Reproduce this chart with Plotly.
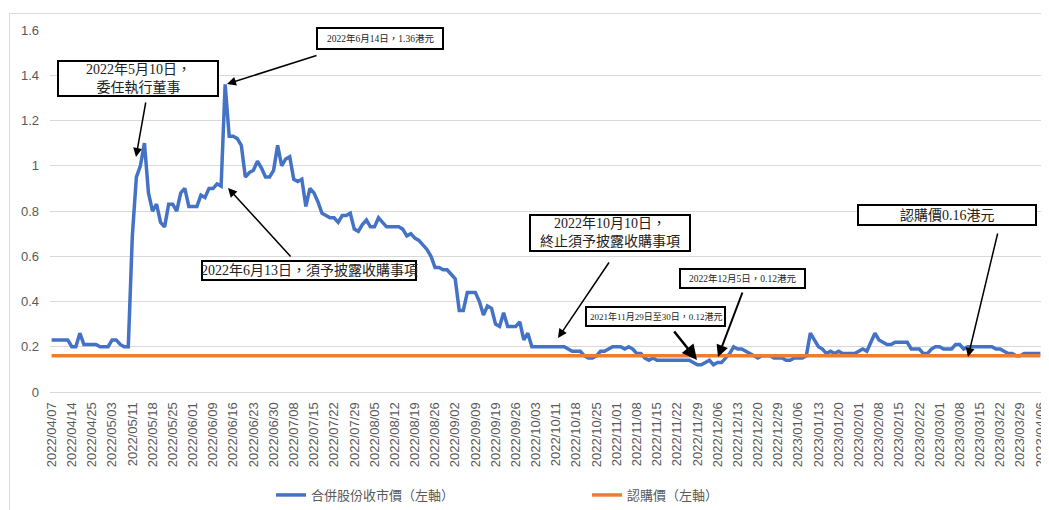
import plotly.graph_objects as go

# ---------------- data ----------------
tick_labels = [
    "2022/04/07", "2022/04/14", "2022/04/25", "2022/05/03", "2022/05/11",
    "2022/05/18", "2022/05/25", "2022/06/01", "2022/06/09", "2022/06/16",
    "2022/06/23", "2022/06/30", "2022/07/08", "2022/07/15", "2022/07/22",
    "2022/07/29", "2022/08/05", "2022/08/12", "2022/08/19", "2022/08/26",
    "2022/09/02", "2022/09/09", "2022/09/19", "2022/09/26", "2022/10/03",
    "2022/10/11", "2022/10/18", "2022/10/25", "2022/11/01", "2022/11/08",
    "2022/11/15", "2022/11/22", "2022/11/29", "2022/12/06", "2022/12/13",
    "2022/12/20", "2022/12/29", "2023/01/06", "2023/01/13", "2023/01/20",
    "2023/02/01", "2023/02/08", "2023/02/15", "2023/02/22", "2023/03/01",
    "2023/03/08", "2023/03/15", "2023/03/22", "2023/03/29", "2023/04/06",
]
label_step = 5  # one tick label every 5 trading days

close_prices = [
    0.23, 0.23, 0.23, 0.23, 0.23, 0.20, 0.20, 0.26, 0.21, 0.21,
    0.21, 0.21, 0.20, 0.20, 0.20, 0.23, 0.23, 0.21, 0.20, 0.20,
    0.69, 0.95, 1.00, 1.10, 0.88, 0.80, 0.83, 0.75, 0.73, 0.83,
    0.83, 0.80, 0.88, 0.90, 0.82, 0.82, 0.82, 0.87, 0.86, 0.90,
    0.90, 0.92, 0.91, 1.36, 1.13, 1.13, 1.12, 1.09, 0.95, 0.97,
    0.98, 1.02, 0.99, 0.95, 0.95, 0.98, 1.09, 1.00, 1.03, 1.04,
    0.94, 0.93, 0.94, 0.82, 0.90, 0.88, 0.84, 0.79, 0.78, 0.77,
    0.77, 0.75, 0.78, 0.78, 0.79, 0.72, 0.71, 0.74, 0.76, 0.73,
    0.73, 0.77, 0.75, 0.73, 0.73, 0.73, 0.73, 0.72, 0.69, 0.70,
    0.68, 0.67, 0.65, 0.63, 0.60, 0.55, 0.55, 0.54, 0.54, 0.52,
    0.50, 0.36, 0.36, 0.44, 0.44, 0.44, 0.40, 0.34, 0.38, 0.37,
    0.30, 0.29, 0.35, 0.29, 0.29, 0.29, 0.31, 0.23, 0.26, 0.20,
    0.20, 0.20, 0.20, 0.20, 0.20, 0.20, 0.20, 0.20, 0.19, 0.18,
    0.18, 0.18, 0.16, 0.15, 0.15, 0.16, 0.18, 0.18, 0.19, 0.20,
    0.20, 0.20, 0.19, 0.20, 0.19, 0.17, 0.17, 0.15, 0.14, 0.15,
    0.14, 0.14, 0.14, 0.14, 0.14, 0.14, 0.14, 0.14, 0.14, 0.13,
    0.12, 0.12, 0.13, 0.14, 0.12, 0.13, 0.13, 0.15, 0.17, 0.20,
    0.19, 0.19, 0.18, 0.17, 0.16, 0.15, 0.16, 0.16, 0.16, 0.15,
    0.15, 0.15, 0.14, 0.14, 0.15, 0.15, 0.15, 0.16, 0.26, 0.23,
    0.20, 0.19, 0.17, 0.18, 0.17, 0.18, 0.17, 0.17, 0.17, 0.17,
    0.18, 0.19, 0.18, 0.22, 0.26, 0.23, 0.22, 0.21, 0.21, 0.22,
    0.22, 0.22, 0.22, 0.19, 0.19, 0.19, 0.17, 0.17, 0.19, 0.20,
    0.20, 0.19, 0.19, 0.19, 0.21, 0.21, 0.19, 0.20, 0.20, 0.20,
    0.20, 0.20, 0.20, 0.20, 0.19, 0.19, 0.18, 0.17, 0.17, 0.16,
    0.16, 0.17, 0.17, 0.17, 0.17, 0.17,
]
subscription_price_value = 0.16
subscription_price = [subscription_price_value] * len(close_prices)

series_names = ["合併股份收市價（左軸）", "認購價（左軸）"]
y_ticks = [0, 0.2, 0.4, 0.6, 0.8, 1.0, 1.2, 1.4, 1.6]
y_tick_text = ["0", "0.2", "0.4", "0.6", "0.8", "1", "1.2", "1.4", "1.6"]

x_idx = list(range(len(close_prices)))
tick_vals = [i * label_step for i in range(len(tick_labels))]

# ---------------- layout helpers ----------------
# the page body has an 8px margin, so the figure is drawn 8px smaller and
# all page-pixel positions below are measured on the 1049x510 page.
OFF = 8
W, H = 1049 - OFF, 510 - OFF
PL, PR, PT, PB = 50, 1042, 30, 392  # plot area, page pixels


def px(x):
    return (x - PL) / (PR - PL)


def py(y):
    return (PB - y) / (PB - PT)


SERIF = "Liberation Serif, 'Noto Sans CJK TC', serif"
GREY = "#595959"

fig = go.Figure()
fig.add_trace(go.Scatter(
    x=x_idx, y=close_prices, mode="lines", name=series_names[0],
    line=dict(color="#4472C4", width=3.5),
))
fig.add_trace(go.Scatter(
    x=x_idx, y=subscription_price, mode="lines", name=series_names[1],
    line=dict(color="#ED7D31", width=3.5),
))

shapes = []
annotations = []

# outer chart border
shapes.append(dict(type="rect", xref="paper", yref="paper",
                   x0=px(9.5), x1=px(1052), y0=py(13.5), y1=py(515),
                   line=dict(color="#d9d9d9", width=1), fillcolor="rgba(0,0,0,0)",
                   layer="below"))

# callout boxes: (x0, x1, y0, y1, text, fontsize)
boxes = [
    (58, 218, 61, 96, "2022年5月10日，<br>委任執行董事", 14),
    (317, 443, 28, 49, "2022年6月14日，1.36港元", 9.5),
    (202, 416, 261, 280, "2022年6月13日，須予披露收購事項", 14),
    (530, 690, 215, 251, "2022年10月10日，<br>終止須予披露收購事項", 14),
    (586, 725, 307, 326, "2021年11月29日至30日，0.12港元", 9),
    (680, 805, 269, 288, "2022年12月5日，0.12港元", 9.5),
    (858, 1036, 205, 225, "認購價0.16港元", 14),
]
# arrows: (tail_x, tail_y, head_x, head_y, width)
arrows = [
    (146, 101, 136, 157, 1.5),
    (318, 55, 227, 84, 1.5),
    (292, 258, 228, 188, 1.5),
    (610, 261, 558, 338, 1.5),
    (673, 330, 697, 360, 2.5),
    (743, 291, 718, 357, 2),
    (998, 232, 968, 357, 1.5),
]

for (x0, x1, y0, y1, txt, fs) in boxes:
    shapes.append(dict(type="rect", xref="paper", yref="paper",
                       x0=px(x0), x1=px(x1), y0=py(y1), y1=py(y0),
                       line=dict(color="black", width=2), fillcolor="white",
                       layer="above"))
    annotations.append(dict(xref="paper", yref="paper",
                            x=px((x0 + x1) / 2), y=py((y0 + y1) / 2),
                            text=txt, showarrow=False, xanchor="center",
                            yanchor="middle", align="center",
                            font=dict(family=SERIF, size=fs, color="#222222")))

for (tx, ty, hx, hy, w) in arrows:
    annotations.append(dict(xref="paper", yref="paper", x=px(hx), y=py(hy),
                            ax=tx - hx, ay=ty - hy, axref="pixel", ayref="pixel",
                            text="", showarrow=True, arrowhead=2, arrowsize=1.2,
                            arrowwidth=w, arrowcolor="black", standoff=0,
                            startstandoff=0))

fig.update_layout(
    width=W, height=H,
    margin=dict(l=PL - OFF, r=W - (PR - OFF), t=PT - OFF, b=H - (PB - OFF),
                autoexpand=False),
    paper_bgcolor="white", plot_bgcolor="white",
    font=dict(family="Liberation Sans, 'Noto Sans CJK TC', sans-serif", color=GREY),
    showlegend=True,
    legend=dict(orientation="h", xref="container", yref="container",
                x=(271 - OFF) / W, y=(510 - 495) / H, xanchor="left",
                yanchor="middle", font=dict(size=13, color=GREY,
                                            family="'Noto Sans CJK TC', sans-serif"),
                entrywidth=271, entrywidthmode="pixels",
                bgcolor="rgba(0,0,0,0)"),
    shapes=shapes,
    annotations=annotations,
    xaxis=dict(range=[-0.4, len(close_prices) - 1 + 0.4], tickmode="array",
               tickvals=tick_vals, ticktext=tick_labels, tickangle=-90,
               showgrid=False, zeroline=False, showline=True, automargin=False,
               linecolor="#d9d9d9", linewidth=1, ticks="",
               tickfont=dict(size=13, color=GREY), ticklabelstandoff=4),
    yaxis=dict(range=[0, 1.6], tickmode="array", tickvals=y_ticks,
               ticktext=y_tick_text, showgrid=True, gridcolor="#d9d9d9",
               gridwidth=1, zeroline=False, showline=False, ticks="",
               automargin=False,
               tickfont=dict(size=13, color=GREY), ticklabelstandoff=10),
)

fig.write_html("out.html")
